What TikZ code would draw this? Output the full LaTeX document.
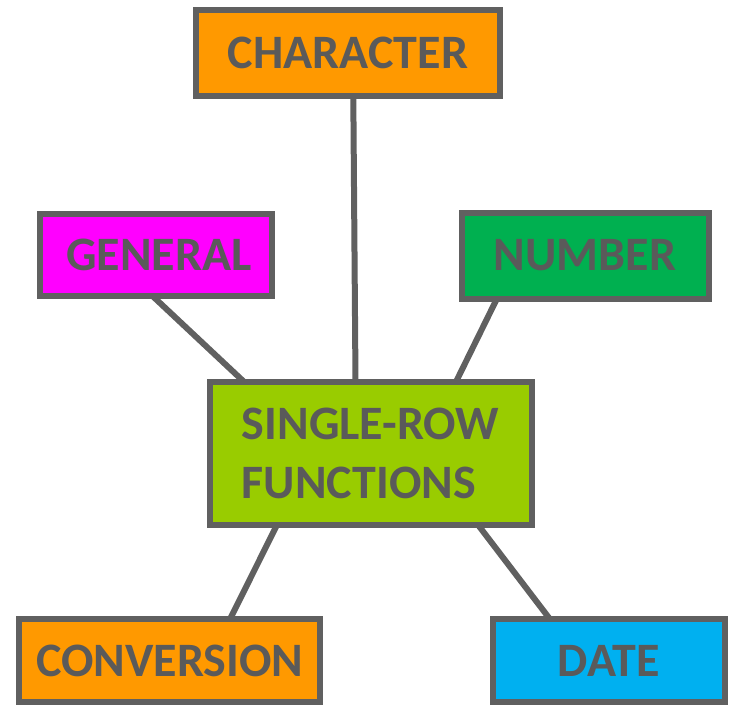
\documentclass[tikz,border=0pt]{standalone}
\usepackage{fontspec}
\setmainfont{Carlito}
\usepackage{xcolor}
\definecolor{linegray}{HTML}{606060}
\definecolor{txtgray}{HTML}{5A5A5A}
\definecolor{orng}{HTML}{FF9900}
\definecolor{magnt}{HTML}{FF00FF}
\definecolor{grn}{HTML}{00B050}
\definecolor{lime}{HTML}{99CC00}
\definecolor{skyblue}{HTML}{00B0F0}

\begin{document}
\begin{tikzpicture}[x=1pt,y=-1pt,
    box/.style={rectangle, draw=linegray, line width=6pt, inner sep=0pt, outer sep=0pt,
      text=txtgray, font=\fontsize{48}{59}\selectfont\bfseries},
    link/.style={draw=linegray, line width=6pt}]
    \useasboundingbox (0,0) rectangle (729,705);
    \node[box, fill=orng, minimum width=304pt, minimum height=86pt] (c) at (348, 53) {CHARACTER};
    \node[box, fill=magnt, minimum width=232pt, minimum height=82pt] (g) at (155.5, 254.5) {\hspace*{7pt}GENERAL};
    \node[box, fill=grn, minimum width=247pt, minimum height=86pt] (n) at (585, 255.5) {NUMBER};
    \node[box, fill=lime, minimum width=322pt, minimum height=143pt, align=left] (s) at (370.5, 453.3) {SINGLE-ROW\\FUNCTIONS};
    \node[box, fill=orng, minimum width=301pt, minimum height=83pt] (v) at (169.7, 660.7) {CONVERSION};
    \node[box, fill=skyblue, minimum width=232pt, minimum height=83pt] (d) at (608.8, 660.7) {DATE};
    \draw[link] ([xshift=5.3pt]c.south) -- ([xshift=-15pt]s.north);
    \draw[link] ([xshift=-3.5pt]g.south) -- ([xshift=-126.5pt]s.north);
    \draw[link] ([xshift=-88pt]n.south) -- ([xshift=85.5pt]s.north);
    \draw[link] ([xshift=-93.5pt]s.south) -- ([xshift=60.3pt]v.north);
    \draw[link] ([xshift=107.5pt]s.south) -- ([xshift=-58.8pt]d.north);
\end{tikzpicture}
\end{document}
